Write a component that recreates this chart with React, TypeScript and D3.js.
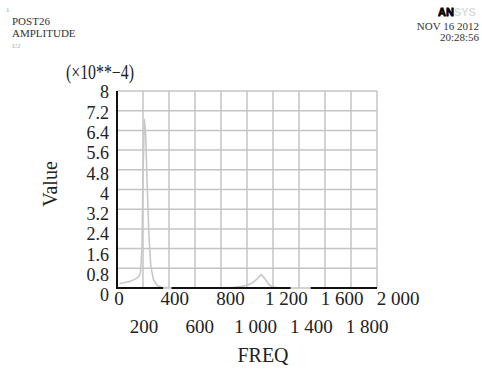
import * as d3 from "d3";
import { useEffect, useRef } from "react";

const W = 482;
const H = 369;
const margin = { top: 91, right: 105, bottom: 81, left: 117 };

// amplitude spectrum (x10^-4)
const freq = [
  20, 60, 100, 140, 165, 180, 192, 200, 210, 220, 232, 245, 260, 280, 310, 340,
  400, 600, 800, 900, 960, 1000, 1040, 1080, 1110, 1140, 1170, 1200, 1240,
];
const amplitude = [
  0.18, 0.22, 0.27, 0.36, 0.45, 0.6, 1.6, 4.6, 6.85, 6.3, 4.2, 2.2, 0.9, 0.35,
  0.1, 0.03, 0.01, 0.01, 0.01, 0.03, 0.07, 0.11, 0.2, 0.38, 0.55, 0.36, 0.13,
  0.04, 0.01,
];

const xTicksRow1 = [0, 400, 800, 1200, 1600, 2000];
const xTicksRow2 = [200, 600, 1000, 1400, 1800];
const xGrid = [0, 200, 400, 600, 800, 1000, 1200, 1400, 1600, 1800, 2000];
const yTicks = [0, 0.8, 1.6, 2.4, 3.2, 4, 4.8, 5.6, 6.4, 7.2, 8];
// pieces of the black base line (freq units)
const baseSegments = [
  [0, 355],
  [420, 1335],
  [1490, 2000],
];

const serif = "'Liberation Serif', 'Times New Roman', serif";

function drawChart(el: SVGSVGElement) {
  const svg = d3.select(el);
  svg.selectAll("*").remove();

  const x = d3.scaleLinear().domain([0, 2000]).range([margin.left, W - margin.right]);
  const y = d3.scaleLinear().domain([0, 8]).range([H - margin.bottom, margin.top]);
  // ANSYS spreads tick labels a little wider than the grid
  const xLab = d3.scaleLinear().domain([0, 2000]).range([119, 398]);
  const yLab = d3.scaleLinear().domain([0, 8]).range([295, 92]);

  const loc = d3.formatLocale({
    decimal: ".",
    thousands: " ",
    grouping: [3],
    currency: ["", ""],
  });
  const fmtX = loc.format(",");
  const fmtY = d3.format("~g");

  // grid
  const grid = svg.append("g").attr("stroke", "#c4c4c4").attr("stroke-width", 1.5);
  grid
    .selectAll("line.v")
    .data(xGrid)
    .join("line")
    .attr("class", "v")
    .attr("x1", (d) => x(d))
    .attr("x2", (d) => x(d))
    .attr("y1", y(0))
    .attr("y2", y(8));
  grid
    .selectAll("line.h")
    .data(yTicks)
    .join("line")
    .attr("class", "h")
    .attr("x1", x(0))
    .attr("x2", x(2000))
    .attr("y1", (d) => y(d))
    .attr("y2", (d) => y(d));

  // curve
  const pts: [number, number][] = freq.map((f, i) => [f, amplitude[i]]);
  const line = d3
    .line<[number, number]>()
    .x((d) => x(d[0]))
    .y((d) => y(d[1]));
  svg
    .append("path")
    .attr("d", line(pts))
    .attr("fill", "none")
    .attr("stroke", "#c8c8c8")
    .attr("stroke-width", 1.6)
    .attr("stroke-linejoin", "round");

  // axes lines
  svg
    .append("line")
    .attr("x1", x(0))
    .attr("x2", x(0))
    .attr("y1", y(0) + 1)
    .attr("y2", y(8))
    .attr("stroke", "#111")
    .attr("stroke-width", 2);
  svg
    .append("g")
    .selectAll("line")
    .data(baseSegments)
    .join("line")
    .attr("x1", (d) => x(d[0]))
    .attr("x2", (d) => x(d[1]))
    .attr("y1", y(0))
    .attr("y2", y(0))
    .attr("stroke", "#111")
    .attr("stroke-width", 2);

  // y labels
  svg
    .append("g")
    .selectAll("text")
    .data(yTicks)
    .join("text")
    .attr("x", 109)
    .attr("y", (d) => yLab(d))
    .attr("dy", "0.35em")
    .attr("text-anchor", "end")
    .style("font-family", serif)
    .style("font-size", "18px")
    .attr("fill", "#222")
    .text((d) => fmtY(d));

  // x labels, two staggered rows
  svg
    .append("g")
    .selectAll("text")
    .data(xTicksRow1)
    .join("text")
    .attr("x", (d) => xLab(d))
    .attr("y", 305)
    .attr("text-anchor", "middle")
    .style("font-family", serif)
    .style("font-size", "19px")
    .attr("fill", "#222")
    .text((d) => fmtX(d));
  svg
    .append("g")
    .selectAll("text")
    .data(xTicksRow2)
    .join("text")
    .attr("x", (d) => xLab(d) - 3)
    .attr("y", 333)
    .attr("text-anchor", "middle")
    .style("font-family", serif)
    .style("font-size", "19px")
    .attr("fill", "#222")
    .text((d) => fmtX(d));

  // axis titles
  svg
    .append("text")
    .attr("x", 263)
    .attr("y", 362)
    .attr("text-anchor", "middle")
    .style("font-family", serif)
    .style("font-size", "20px")
    .attr("fill", "#222")
    .text("FREQ");
  svg
    .append("text")
    .attr("transform", "translate(57,184) rotate(-90)")
    .attr("text-anchor", "middle")
    .style("font-family", serif)
    .style("font-size", "20px")
    .attr("fill", "#222")
    .text("Value");
  svg
    .append("text")
    .attr("x", 66)
    .attr("y", 79)
    .attr("textLength", 68)
    .attr("lengthAdjust", "spacingAndGlyphs")
    .style("font-family", serif)
    .style("font-size", "20px")
    .attr("fill", "#222")
    .text("(×10**−4)");

  // header, left
  const hdr = svg.append("g").style("font-family", serif).attr("fill", "#333");
  hdr.append("text").attr("x", 6).attr("y", 12).style("font-size", "7px").attr("fill", "#999").text("1");
  hdr.append("text").attr("x", 12).attr("y", 25).style("font-size", "11px").text("POST26");
  hdr.append("text").attr("x", 12).attr("y", 37).style("font-size", "11px").text("AMPLITUDE");
  hdr.append("text").attr("x", 12).attr("y", 48).style("font-size", "7px").attr("fill", "#aaa").text("U2");

  // header, right
  const logo = svg
    .append("text")
    .attr("x", 438)
    .attr("y", 16)
    .style("font-family", "'Liberation Sans', Arial, sans-serif")
    .style("font-size", "11px")
    .style("font-weight", "bold");
  logo.append("tspan").attr("fill", "#000").attr("stroke", "#000").attr("stroke-width", 0.8).text("AN");
  logo.append("tspan").attr("fill", "#ddd").text("SYS");
  hdr.append("text").attr("x", 479).attr("y", 30).attr("text-anchor", "end").style("font-size", "11px").text("NOV 16 2012");
  hdr.append("text").attr("x", 479).attr("y", 41).attr("text-anchor", "end").style("font-size", "11px").text("20:28:56");
}

export default function App() {
  const ref = useRef<SVGSVGElement>(null);
  useEffect(() => {
    if (ref.current) drawChart(ref.current);
  }, []);
  return (
    <svg
      ref={ref}
      width={W}
      height={H}
      style={{ position: "absolute", left: 0, top: 0, background: "#fff" }}
    />
  );
}
